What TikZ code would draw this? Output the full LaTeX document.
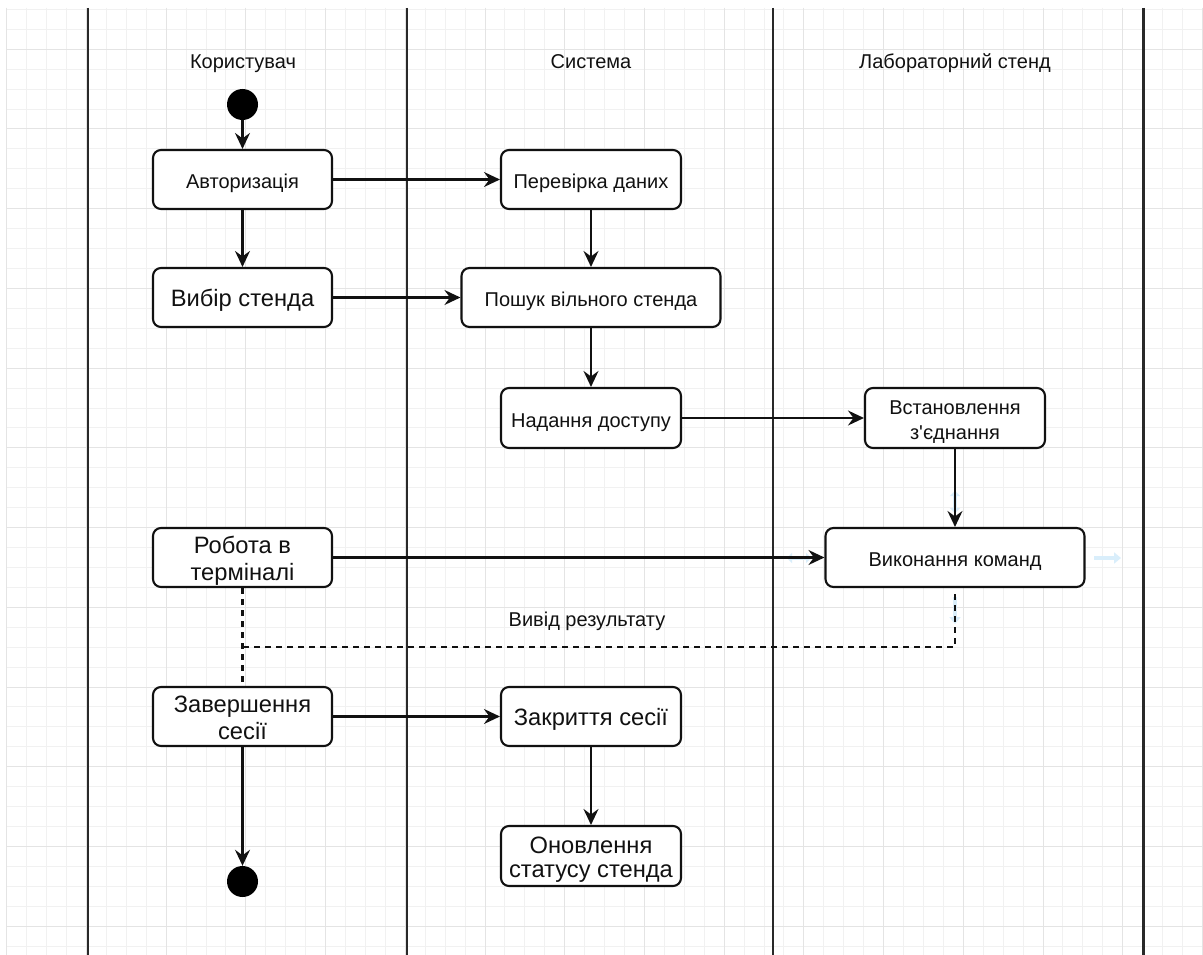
\documentclass[tikz,border=0pt]{standalone}
\usepackage{fontspec}
\setmainfont{Liberation Sans}
\usetikzlibrary{arrows.meta}
\definecolor{gridminor}{HTML}{F1F1F1}
\definecolor{gridmajor}{HTML}{E4E4E4}
\definecolor{hint}{HTML}{D9EEFB}
\definecolor{ink}{HTML}{111111}
\newcommand{\rsSmTop}{\rule{0pt}{22.5pt}}
\newcommand{\rsSmBot}{\rule[-4.5pt]{0pt}{0pt}}
\newcommand{\rsBigTop}{\rule{0pt}{24pt}}
\newcommand{\rsBigBot}{\rule[-5.5pt]{0pt}{0pt}}
\begin{document}
\begin{tikzpicture}[x=1pt,y=-1pt,
  act/.style={draw=ink, line width=2.1pt, rounded corners=8pt, fill=white, align=center, inner sep=0pt, text=ink,
    font=\fontsize{20}{25.5}\selectfont},
  big/.style={font=\fontsize{23.7}{26.5}\selectfont},
  flow/.style={draw=ink, line width=2.1pt, -{Stealth[length=16pt,width=15pt,inset=5.5pt]}},
  dashline/.style={draw=ink, line width=2.1pt, dash pattern=on 6pt off 5pt},
  lane/.style={draw=ink!90, line width=2.2pt},
  lbl/.style={font=\fontsize{20}{24}\selectfont, inner sep=0pt, text=ink},
  term/.style={circle, fill=black, minimum size=31pt, inner sep=0pt},
  hintarrow/.style={draw=hint, line width=3.5pt}
]
% background and grid
\fill[white] (0,0) rectangle (1203,955);
\useasboundingbox (0,0) rectangle (1203,955);
\foreach \k in {0,...,60} \draw[gridminor, line width=1pt] ({6.7+19.93*\k},8) -- ({6.7+19.93*\k},955);
\foreach \j in {0,...,47} \draw[gridminor, line width=1pt] (6.7,{9.4+19.93*\j}) -- (1203,{9.4+19.93*\j});
\foreach \k in {0,4,...,60} \draw[gridmajor, line width=1pt] ({6.7+19.93*\k},8) -- ({6.7+19.93*\k},955);
\foreach \j in {2,6,...,46} \draw[gridmajor, line width=1pt] (6.7,{9.4+19.93*\j}) -- (1203,{9.4+19.93*\j});

% swimlane separators
\foreach \xx in {88,407,773,1143.5} \draw[lane] (\xx,8) -- (\xx,955);

% lane titles
\node[lbl] (lane1) at (243,60) {\rsSmTop Користувач\rsSmBot};
\node[lbl] (lane2) at (591,60) {\rsSmTop Система\rsSmBot};
\node[lbl] (lane3) at (955,60) {\rsSmTop Лабораторний стенд\rsSmBot};

% nodes
\node[term] (start) at (242.5,104.5) {};
\node[act, minimum width=179pt, minimum height=59pt] (auth) at (242.5,179.5) {\rsSmTop Авторизація\rsSmBot};
\node[act, minimum width=180pt, minimum height=59pt] (perev) at (591,179.5) {\rsSmTop Перевірка даних\rsSmBot};
\node[act, big, minimum width=179pt, minimum height=59pt] (vybir) at (242.5,297.5) {\rsBigTop Вибір стенда\rsBigBot};
\node[act, minimum width=259pt, minimum height=59pt] (poshuk) at (591,297.5) {\rsSmTop Пошук вільного стенда\rsSmBot};
\node[act, minimum width=180pt, minimum height=60pt] (nadan) at (591,418) {\rsSmTop Надання доступу\rsSmBot};
\node[act, minimum width=180pt, minimum height=60pt] (vstan) at (955,418) {\rsSmTop Встановлення\\з\textquotesingle єднання\rsSmBot};
\node[act, big, minimum width=179pt, minimum height=59pt] (robota) at (242.5,557.5) {\rsBigTop Робота в\\терміналі\rsBigBot};
\node[act, minimum width=259pt, minimum height=59pt] (vykon) at (955,557.5) {\rsSmTop Виконання команд\rsSmBot};
\node[act, big, minimum width=179pt, minimum height=59pt] (zaversh) at (242.5,716.5) {\rsBigTop Завершення\\сесії\rsBigBot};
\node[act, big, minimum width=180pt, minimum height=59pt] (zakr) at (591,716.5) {\rsBigTop Закриття сесії\rsBigBot};
\node[act, big, font=\fontsize{23.7}{24}\selectfont, minimum width=180pt, minimum height=60pt] (onovl) at (591,856) {\rsBigTop Оновлення\\статусу стенда\rsBigBot};
\node[term] (finish) at (242.5,881.5) {};

% faint hover hints around the selected node
\draw[hintarrow, {Triangle[length=5pt,width=10pt]}-{Triangle[length=5pt,width=10pt]}] (955,491) -- (955,513);
\draw[hintarrow, {Triangle[length=5pt,width=10pt]}-{Triangle[length=5pt,width=10pt]}] (787,558) -- (811,558);
\draw[hintarrow, -{Triangle[length=7pt,width=11pt]}] (1094,558) -- (1121,558);
\draw[hintarrow, -{Triangle[length=7pt,width=11pt]}] (955,597) -- (955,624);

% connectors
\draw[flow] (start) -- (auth);
\draw[flow] (auth) -- (perev);
\draw[flow] (auth) -- (vybir);
\draw[flow] (perev) -- (poshuk);
\draw[flow] (vybir) -- (poshuk);
\draw[flow] (poshuk) -- (nadan);
\draw[flow] (nadan) -- (vstan);
\draw[flow] (vstan) -- (vykon);
\draw[flow] (robota) -- (vykon);
\draw[flow] (zaversh) -- (zakr);
\draw[flow] (zakr) -- (onovl);
\draw[flow] (zaversh) -- (finish);

% result return (dashed)
\coordinate (dcorner) at (955,647);
\coordinate (djoin) at (242.5,647);
\draw[dashline] ([yshift=-6pt]vykon.south) -- (dcorner) -- (djoin);
\draw[dashline] (robota.south) -- (zaversh.north);
\node[lbl] (vyvid) at (587,617) {\rsSmTop Вивід результату\rsSmBot};
\end{tikzpicture}
\end{document}
